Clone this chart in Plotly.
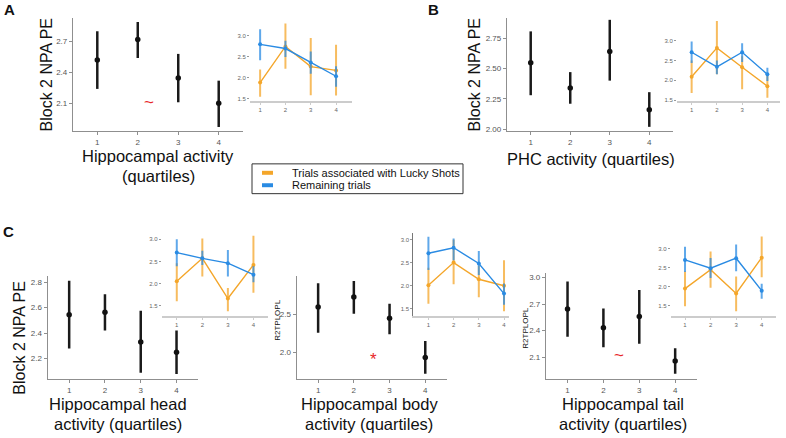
import plotly.graph_objects as go

W, H = 786, 438

quart = [1, 2, 3, 4]

# main panels (mean, lower, upper)
a_mean = [2.52, 2.72, 2.345, 2.10]
a_lo = [2.24, 2.54, 2.11, 1.87]
a_hi = [2.80, 2.89, 2.58, 2.32]

b_mean = [2.547, 2.34, 2.64, 2.16]
b_lo = [2.28, 2.21, 2.40, 2.02]
b_hi = [2.805, 2.47, 2.90, 2.305]

head_mean = [2.545, 2.564, 2.33, 2.25]
head_lo = [2.28, 2.42, 2.09, 2.08]
head_hi = [2.81, 2.705, 2.575, 2.42]

body_mean = [2.597, 2.73, 2.45, 1.935]
body_lo = [2.26, 2.51, 2.24, 1.72]
body_hi = [2.91, 2.94, 2.64, 2.15]

tail_mean = [2.644, 2.43, 2.56, 2.055]
tail_lo = [2.33, 2.21, 2.25, 1.91]
tail_hi = [2.955, 2.65, 2.86, 2.20]

# insets: lucky shots (orange) and remaining trials (blue)
a_luck_mean = [1.88, 2.74, 2.26, 2.17]
a_luck_lo = [1.54, 2.21, 1.58, 1.57]
a_luck_hi = [2.19, 3.29, 2.94, 2.78]
a_rem_mean = [2.79, 2.69, 2.36, 2.03]
a_rem_lo = [2.41, 2.49, 2.09, 1.78]
a_rem_hi = [3.15, 2.875, 2.62, 2.27]

b_luck_mean = [2.09, 2.82, 2.33, 1.85]
b_luck_lo = [1.68, 2.15, 1.77, 1.56]
b_luck_hi = [2.50, 3.50, 2.61, 2.11]
b_rem_mean = [2.71, 2.34, 2.71, 2.15]
b_rem_lo = [2.44, 2.15, 2.46, 1.98]
b_rem_hi = [2.98, 2.50, 2.94, 2.32]

head_luck_mean = [2.05, 2.57, 1.66, 2.42]
head_luck_lo = [1.60, 2.16, 1.37, 1.79]
head_luck_hi = [2.46, 3.02, 1.90, 3.08]
head_rem_mean = [2.70, 2.57, 2.46, 2.20]
head_rem_lo = [2.39, 2.42, 2.16, 2.03]
head_rem_hi = [3.00, 2.74, 2.76, 2.39]

body_luck_mean = [2.01, 2.50, 2.14, 2.00]
body_luck_lo = [1.61, 2.03, 1.75, 1.45]
body_luck_hi = [2.39, 2.99, 2.43, 2.55]
body_rem_mean = [2.70, 2.82, 2.48, 1.83]
body_rem_lo = [2.34, 2.55, 2.23, 1.59]
body_rem_hi = [3.06, 3.02, 2.75, 2.05]

tail_luck_mean = [1.95, 2.45, 1.82, 2.77]
tail_luck_lo = [1.48, 1.97, 1.35, 2.25]
tail_luck_hi = [2.41, 2.93, 2.27, 3.33]
tail_rem_mean = [2.71, 2.49, 2.755, 1.895]
tail_rem_lo = [2.39, 2.23, 2.41, 1.68]
tail_rem_hi = [3.06, 2.76, 3.12, 2.08]

FONT = "Liberation Sans, Arial, sans-serif"
ORANGE = "#F4A62A"
BLUE = "#2A8BE3"
ORANGE_EB = "rgba(244,166,42,0.75)"
BLUE_EB = "rgba(42,139,227,0.75)"


def px_x(a, b):
    return [a / W, b / W]


def px_y(top, bottom):
    return [1 - bottom / H, 1 - top / H]


def err(mean, lo, hi):
    return dict(type="data", symmetric=False,
                array=[h - m for m, h in zip(mean, hi)],
                arrayminus=[m - l for m, l in zip(mean, lo)])


fig = go.Figure()
layout = {}

# main panels: data, x-domain px, y-domain px, x range, y range, y ticks, tick format
mains = [
    (a_mean, a_lo, a_hi, (73, 243), (18, 132), [0.4, 4.6], [1.83, 2.93], [2.1, 2.4, 2.7], ".1f"),
    (b_mean, b_lo, b_hi, (507, 673), (18, 132), [0.4, 4.6], [1.985, 2.916], [2.0, 2.25, 2.5, 2.75], ".2f"),
    (head_mean, head_lo, head_hi, (47.7, 198), (278, 381.7), [0.4, 4.6], [2.04, 2.847], [2.2, 2.4, 2.6, 2.8], ".1f"),
    (body_mean, body_lo, body_hi, (296.7, 446.7), (278.3, 381.7), [0.4, 4.6], [1.65, 3.0], [2.0, 2.5], ".1f"),
    (tail_mean, tail_lo, tail_hi, (546, 696.7), (275, 381.7), [0.4, 4.6], [1.85, 3.05], [2.1, 2.4, 2.7, 3.0], ".1f"),
]

insets = [
    (a_luck_mean, a_luck_lo, a_luck_hi, a_rem_mean, a_rem_lo, a_rem_hi,
     (250, 352), (21, 101.7), [0.6, 4.63], [1.44, 3.35], False),
    (b_luck_mean, b_luck_lo, b_luck_hi, b_rem_mean, b_rem_lo, b_rem_hi,
     (677, 780), (20, 101.7), [0.42, 4.5], [1.475, 3.53], False),
    (head_luck_mean, head_luck_lo, head_luck_hi, head_rem_mean, head_rem_lo, head_rem_hi,
     (161.7, 268), (234.3, 317.7), [0.41, 4.57], [1.275, 3.15], False),
    (body_luck_mean, body_luck_lo, body_luck_hi, body_rem_mean, body_rem_lo, body_rem_hi,
     (413.3, 509.3), (235, 317.7), [0.4, 4.21], [1.356, 3.13], True),
    (tail_luck_mean, tail_luck_lo, tail_luck_hi, tail_rem_mean, tail_rem_lo, tail_rem_hi,
     (670.7, 776), (237.4, 318.3), [0.44, 4.56], [1.22, 3.35], False),
]

n = 1
for mean, lo, hi, xd, yd, xr, yr, yt, fmt in mains:
    sfx = "" if n == 1 else str(n)
    fig.add_trace(go.Scatter(
        x=quart, y=mean, mode="markers", xaxis="x" + sfx, yaxis="y" + sfx,
        marker=dict(color="#111111", size=5.5),
        error_y=dict(err(mean, lo, hi), color="#1a1a1a", thickness=2.5, width=0),
        showlegend=False, hoverinfo="skip"))
    layout["xaxis" + sfx] = dict(
        domain=px_x(*xd), range=xr, anchor="y" + sfx, tickvals=quart,
        showline=True, linecolor="#8f8f8f", linewidth=1.3, ticks="outside",
        ticklen=3, tickcolor="#8f8f8f", tickfont=dict(size=8, color="#555555"),
        showgrid=False, zeroline=False)
    layout["yaxis" + sfx] = dict(
        domain=px_y(*yd), range=yr, anchor="x" + sfx, tickvals=yt, tickformat=fmt,
        showline=True, linecolor="#8f8f8f", linewidth=1.3, ticks="outside",
        ticklen=3, tickcolor="#8f8f8f", tickfont=dict(size=8, color="#555555"),
        showgrid=False, zeroline=False)
    n += 1

for lm, ll, lh, rm, rl, rh, xd, yd, xr, yr, yline in insets:
    sfx = str(n)
    fig.add_trace(go.Scatter(
        x=quart, y=lm, mode="lines+markers", xaxis="x" + sfx, yaxis="y" + sfx,
        line=dict(color=ORANGE, width=1.4), marker=dict(color=ORANGE, size=4),
        error_y=dict(err(lm, ll, lh), color=ORANGE_EB, thickness=2, width=0),
        showlegend=False, hoverinfo="skip"))
    fig.add_trace(go.Scatter(
        x=quart, y=rm, mode="lines+markers", xaxis="x" + sfx, yaxis="y" + sfx,
        line=dict(color=BLUE, width=1.4), marker=dict(color=BLUE, size=4),
        error_y=dict(err(rm, rl, rh), color=BLUE_EB, thickness=2, width=0),
        showlegend=False, hoverinfo="skip"))
    layout["xaxis" + sfx] = dict(
        domain=px_x(*xd), range=xr, anchor="y" + sfx, tickvals=quart,
        showline=True, linecolor="#cccccc", linewidth=2, ticks="outside",
        ticklen=2, tickcolor="#cccccc", tickfont=dict(size=6, color="#666666"),
        showgrid=False, zeroline=False)
    layout["yaxis" + sfx] = dict(
        domain=px_y(*yd), range=yr, anchor="x" + sfx, tickvals=[1.5, 2.0, 2.5, 3.0],
        tickformat=".1f", showline=yline, linecolor="#777777", linewidth=1.2,
        ticks="outside", ticklen=2, tickcolor="#999999",
        tickfont=dict(size=6, color="#666666"), showgrid=False, zeroline=False)
    n += 1


def note(text, x, y, size, color="#111111", angle=0, bold=False):
    if bold:
        text = "<b>" + text + "</b>"
    return dict(text=text, x=x / W, y=1 - y / H, xref="paper", yref="paper",
                xanchor="center", yanchor="middle", showarrow=False, textangle=angle,
                font=dict(family=FONT, size=size, color=color))


annotations = [
    note("A", 9, 10, 15, bold=True),
    note("B", 433, 10, 15, bold=True),
    note("C", 8, 233, 15, bold=True),
    note("Block 2 NPA PE", 46, 75, 16, angle=-90),
    note("Block 2 NPA PE", 474, 75, 16, angle=-90),
    note("Block 2 NPA PE", 20, 340, 16, angle=-90),
    note("R2TPLOPL", 278, 323, 8, angle=-90),
    note("R2TPLOPL", 526, 331, 8, angle=-90),
    note("Hippocampal activity", 158, 157, 16.5),
    note("(quartiles)", 158, 177, 16.5),
    note("PHC activity (quartiles)", 591, 160, 16.5),
    note("Hippocampal head", 118, 407, 16.5),
    note("activity (quartiles)", 118, 427, 16.5),
    note("Hippocampal body", 369, 407, 16.5),
    note("activity (quartiles)", 369, 427, 16.5),
    note("Hippocampal tail", 623, 407, 16.5),
    note("activity (quartiles)", 623, 427, 16.5),
    note("~", 149, 103, 17, color="#e8262a"),
    note("*", 373, 362, 17, color="#e8262a"),
    note("~", 619, 358, 17, color="#e8262a"),
]

legend_items = ["Trials associated with Lucky Shots", "Remaining trials"]
legend_colors = [ORANGE, BLUE]
shapes = [dict(type="rect", xref="paper", yref="paper",
               x0=252 / W, x1=463 / W, y0=1 - 195 / H, y1=1 - 165 / H,
               line=dict(color="#333333", width=1), fillcolor="white", layer="below")]
for i, (lab, col) in enumerate(zip(legend_items, legend_colors)):
    yc = 174 + 12.5 * i
    shapes.append(dict(type="rect", xref="paper", yref="paper",
                       x0=262 / W, x1=273 / W, y0=1 - (yc + 2) / H, y1=1 - (yc - 2) / H,
                       line=dict(width=0), fillcolor=col))
    annotations.append(dict(text=lab, x=290 / W, y=1 - yc / H, xref="paper", yref="paper",
                            xanchor="left", yanchor="middle", showarrow=False,
                            font=dict(family=FONT, size=11, color="#111111")))

fig.update_layout(
    width=W, height=H, margin=dict(l=0, r=0, t=0, b=0),
    paper_bgcolor="white", plot_bgcolor="white",
    font=dict(family=FONT), annotations=annotations, shapes=shapes,
    **layout)

# page body has a default margin; drop it so the figure sits at the window corner
fig.write_html("out.html", config={"displayModeBar": False},
               post_script="document.body.style.margin = '0px';")
